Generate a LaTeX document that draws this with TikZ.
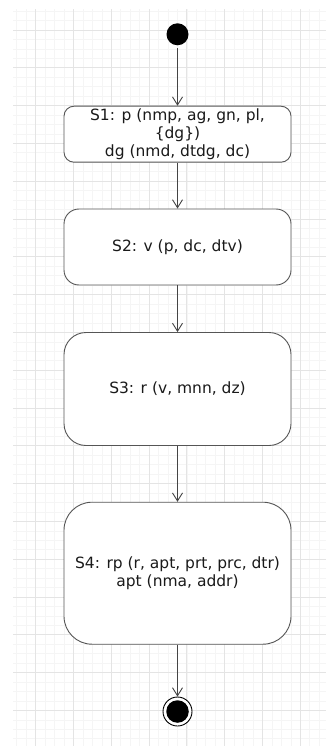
\documentclass[tikz,border=0pt]{standalone}
\usepackage{fontspec}
\setmainfont{DejaVu Sans}
\usetikzlibrary{arrows.meta}
\definecolor{gridmajor}{HTML}{E4E4E4}
\definecolor{gridminor}{HTML}{F5F5F5}
\definecolor{edgegray}{HTML}{555555}
\definecolor{linkgray}{HTML}{444444}
\definecolor{textdark}{HTML}{1A1A1A}
\tikzset{
  state/.style={draw=edgegray, line width=0.9pt, fill=white, minimum width=227pt,
    align=center, inner sep=0pt, text=textdark, font=\fontsize{15.5}{17.7}\selectfont},
  link/.style={draw=linkgray, line width=0.9pt,
    -{Straight Barb[length=8pt, width=10pt, line width=0.9pt]}},
}
\begin{document}
\begin{tikzpicture}[x=1pt, y=-1pt]
  \useasboundingbox (0,0) rectangle (326,751);
  \fill[white] (0,0) rectangle (326,751);
  % background grid
  \begin{scope}
    \clip (13,10) rectangle (326,745);
    \foreach \i in {-3,...,36} {
      \draw[gridminor, line width=0.7pt] (35.7+9.45*\i,0) -- (35.7+9.45*\i,760);
    }
    \foreach \i in {-3,...,80} {
      \draw[gridminor, line width=0.7pt] (0,30+9.45*\i) -- (330,30+9.45*\i);
    }
    \foreach \i in {0,...,8} {
      \draw[gridmajor, line width=0.9pt] (35.7+37.8*\i,0) -- (35.7+37.8*\i,760);
    }
    \foreach \i in {-1,...,20} {
      \draw[gridmajor, line width=0.9pt] (0,30+37.8*\i) -- (330,30+37.8*\i);
    }
  \end{scope}

  % initial state
  \node[circle, fill=black, minimum size=22pt, inner sep=0pt] (start) at (177.5,34.3) {};

  % states
  \node[state, rounded corners=10pt, minimum height=56pt] (s1) at (177.5,134.2)
    {S1: p (nmp, ag, gn, pl,\\\{dg\})\\dg (nmd, dtdg, dc)};
  \node[state, rounded corners=15pt, minimum height=76pt] (s2) at (177.5,247)
    {S2: v (p, dc, dtv)};
  \node[state, rounded corners=22pt, minimum height=113pt] (s3) at (177.5,389)
    {S3: r (v, mnn, dz)};
  \node[state, rounded corners=28pt, minimum height=142pt] (s4) at (177.5,573.2)
    {S4: rp (r, apt, prt, prc, dtr)\\apt (nma, addr)};

  % final state
  \node[circle, draw=black, line width=0.9pt, fill=white, minimum size=29pt, inner sep=0pt] (stop) at (177.5,711.5) {};
  \node[circle, fill=black, minimum size=22.5pt, inner sep=0pt] (stopdot) at (stop.center) {};

  % transitions
  \draw[link, shorten <=3pt] (start) -- (s1);
  \draw[link] (s1) -- (s2);
  \draw[link] (s2) -- (s3);
  \draw[link] (s3) -- (s4);
  \draw[link] (s4) -- (stop);
\end{tikzpicture}
\end{document}
